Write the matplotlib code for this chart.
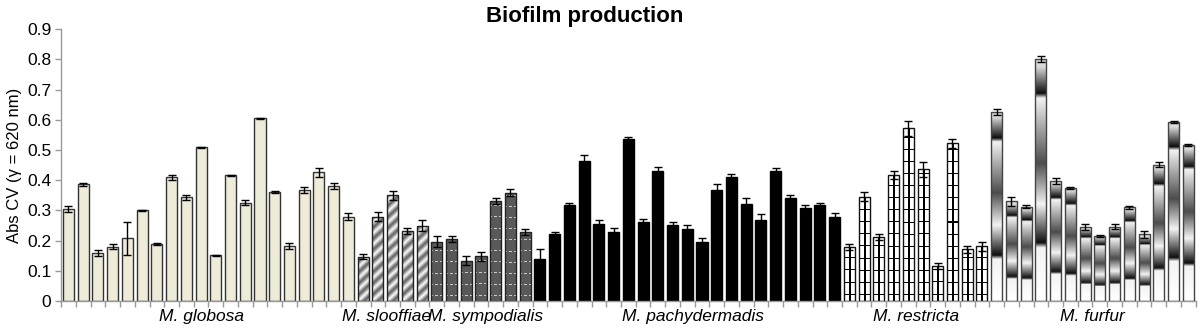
import numpy as np
import matplotlib
matplotlib.use("Agg")
import matplotlib.pyplot as plt
import matplotlib.transforms as mtransforms
from matplotlib.colors import ListedColormap

# values, one list per species
globosa = [0.304, 0.387, 0.158, 0.180, 0.208, 0.300, 0.190, 0.410, 0.343, 0.509,
           0.152, 0.416, 0.326, 0.605, 0.362, 0.182, 0.368, 0.426, 0.380, 0.279]
globosa_err = [0.010, 0.005, 0.010, 0.008, 0.055, 0.003, 0.003, 0.008, 0.008, 0.002,
               0.002, 0.002, 0.008, 0.002, 0.004, 0.010, 0.010, 0.015, 0.010, 0.012]
slooffiae = [0.147, 0.279, 0.351, 0.232, 0.249]
slooffiae_err = [0.008, 0.015, 0.015, 0.010, 0.018]
sympodialis = [0.196, 0.205, 0.133, 0.149, 0.331, 0.359, 0.230]
sympodialis_err = [0.018, 0.010, 0.015, 0.015, 0.010, 0.012, 0.010]
pachydermatis = [0.138, 0.221, 0.318, 0.465, 0.255, 0.228, 0.537, 0.261, 0.431, 0.251, 0.238,
                 0.196, 0.368, 0.410, 0.322, 0.268, 0.431, 0.342, 0.309, 0.317, 0.280]
pachydermatis_err = [0.033, 0.008, 0.008, 0.017, 0.015, 0.015, 0.005, 0.012, 0.012, 0.012, 0.014,
                     0.012, 0.018, 0.010, 0.018, 0.020, 0.010, 0.010, 0.010, 0.008, 0.010]
restricta = [0.179, 0.345, 0.211, 0.418, 0.572, 0.436, 0.117, 0.522, 0.171, 0.182]
restricta_err = [0.010, 0.015, 0.010, 0.013, 0.025, 0.025, 0.010, 0.015, 0.012, 0.015]
furfur = [0.626, 0.330, 0.312, 0.800, 0.398, 0.375, 0.246, 0.216, 0.246, 0.310,
          0.221, 0.451, 0.594, 0.518]
furfur_err = [0.010, 0.015, 0.005, 0.010, 0.010, 0.003, 0.010, 0.004, 0.008, 0.004,
              0.012, 0.008, 0.003, 0.003]

group_names = ["M. globosa", "M. slooffiae", "M. sympodialis",
               "M. pachydermadis", "M. restricta", "M. furfur"]

plt.rcParams['font.family'] = ['Liberation Sans', 'DejaVu Sans']

PX = 302  # rough pixels per unit of the y axis, only used to size the fill patterns


def stripes_pattern(rows):
    r, c = np.mgrid[0:rows, 0:11]
    s = ((r - c) % 11) / 11.0
    return 0.35 + 0.65 * np.abs(2 * s - 1)


def dash_pattern(rows):
    r, c = np.mgrid[0:rows, 0:11]
    img = np.full((rows, 11), 0.35)
    img[((r % 11) == 5) & ((c % 4) < 2)] = 0.8
    return img


def ladder_pattern(rows):
    r, c = np.mgrid[0:rows, 0:11]
    img = np.ones((rows, 11))
    img[(r % 12) == 6] = 0.0
    img[:, 5] = 0.0
    return img


def band_pattern(rows):
    t = np.linspace(1, 0, rows)  # origin lower: first row is the bottom
    return np.interp(t, [0, 0.03, 0.14, 0.16, 0.43, 0.60, 0.76, 0.78, 1.0],
                     [0.85, 0.85, 0.05, 0.95, 0.3, 0.95, 0.05, 0.95, 1.0])[:, None]


def fill_bars(bars, pattern, interp):
    for b in bars:
        rows = max(int(b.get_height() * PX), 2)
        im = ax.imshow(pattern(rows), cmap='gray', vmin=0, vmax=1, aspect='auto',
                       origin='lower', interpolation=interp, zorder=2,
                       extent=(b.get_x(), b.get_x() + b.get_width(), 0, b.get_height()))
        im.set_clip_path(b)


fig = plt.figure(figsize=(11.98, 3.28), dpi=100)
ax = fig.add_axes([0.051, 0.082, 0.947, 0.829])

groups = [(globosa, globosa_err), (slooffiae, slooffiae_err), (sympodialis, sympodialis_err),
          (pachydermatis, pachydermatis_err), (restricta, restricta_err), (furfur, furfur_err)]

width = 0.75
start = 0
centers = []
for gi, (vals, errs) in enumerate(groups):
    x = np.arange(start, start + len(vals))
    centers.append((x[0] + x[-1]) / 2)
    if gi == 0:
        ax.bar(x, vals, width, color='#eeebd9', edgecolor='#333333', linewidth=1.0, zorder=2)
    elif gi == 1:
        bars = ax.bar(x, vals, width, color='none', edgecolor='#222222', linewidth=1.0, zorder=3)
        fill_bars(bars, stripes_pattern, 'bilinear')
    elif gi == 2:
        bars = ax.bar(x, vals, width, color='none', edgecolor='#222222', linewidth=1.0, zorder=3)
        fill_bars(bars, dash_pattern, 'nearest')
    elif gi == 3:
        ax.bar(x, vals, width, color='black', edgecolor='black', linewidth=1.0, zorder=2)
    elif gi == 4:
        bars = ax.bar(x, vals, width, color='none', edgecolor='#111111', linewidth=1.0, zorder=3)
        fill_bars(bars, ladder_pattern, 'nearest')
    else:
        bars = ax.bar(x, vals, width, color='none', edgecolor='#444444', linewidth=1.0, zorder=3)
        fill_bars(bars, band_pattern, 'bilinear')
    ax.errorbar(x, vals, yerr=errs, fmt='none', ecolor='black', elinewidth=1.0,
                capsize=3, capthick=1.0, zorder=4)
    start += len(vals)

n = start
ax.set_xlim(-0.5, n - 0.5)
ax.set_ylim(0, 0.9)
ax.set_yticks(np.arange(0, 0.91, 0.1))
ax.set_yticklabels(['0'] + ['%.1f' % v for v in np.arange(0.1, 0.91, 0.1)])
ax.set_xticks(np.arange(-0.5, n, 1.0))
ax.set_xticklabels([])

for s in ['top', 'right']:
    ax.spines[s].set_visible(False)
for s in ['left', 'bottom']:
    ax.spines[s].set_color('#999999')
    ax.spines[s].set_linewidth(1.0)
ax.tick_params(axis='both', colors='#999999', length=4, width=1.0, labelsize=12.5,
               labelcolor='black')
ax.tick_params(axis='y', pad=3)

trans = mtransforms.blended_transform_factory(ax.transData, ax.transAxes)
nudge = [-0.5, -0.4, 0.3, 0.4, 0, 0]
for c, name, dx in zip(centers, group_names, nudge):
    ax.text(c + dx, -0.058, name, transform=trans, ha='center', va='center',
            fontsize=12.5, style='italic')

ax.set_ylabel('Abs CV (γ = 620 nm)', fontsize=12, labelpad=4)
fig.text(0.488, 0.95, 'Biofilm production', ha='center', va='center',
         fontsize=16, fontweight='bold')

fig.savefig('out.png', dpi=100)
